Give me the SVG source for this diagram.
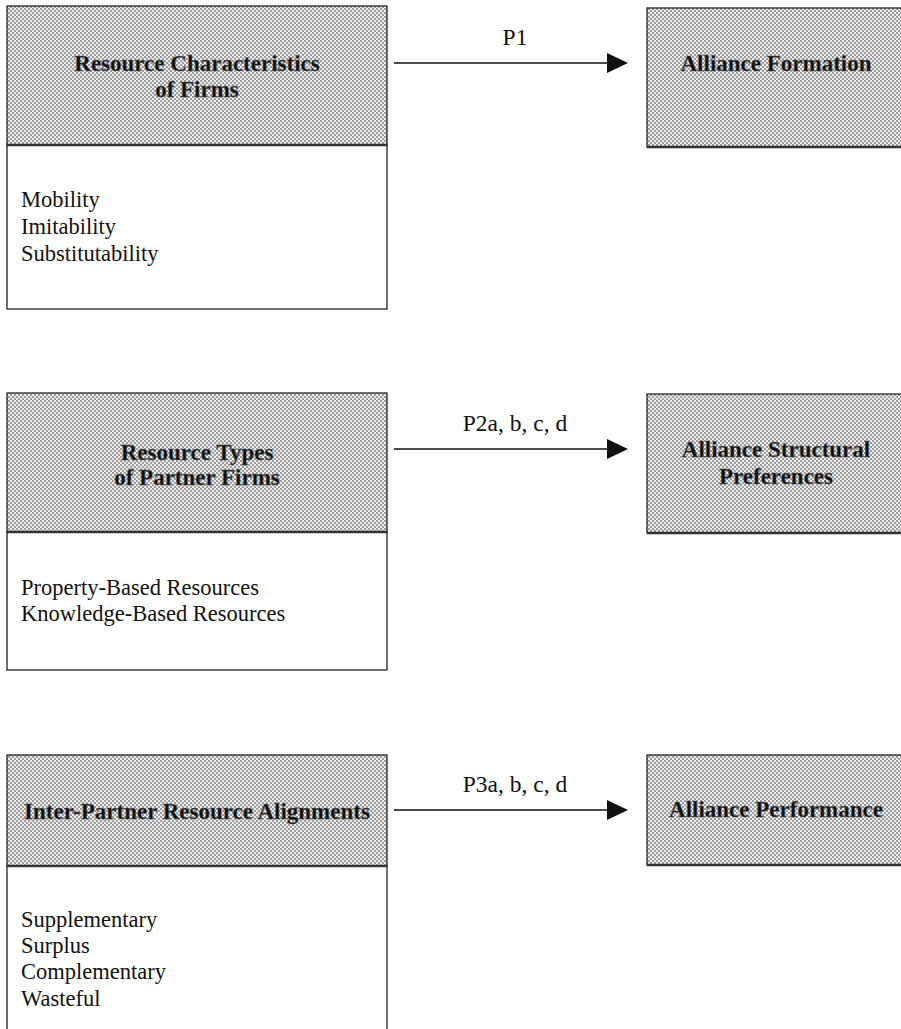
<svg xmlns="http://www.w3.org/2000/svg" width="901" height="1029" viewBox="0 0 901 1029">
<defs>
<pattern id="dots" width="4" height="4" patternUnits="userSpaceOnUse">
<rect width="4" height="4" fill="#ececec"/>
<rect x="0" y="0" width="2" height="2" fill="#9c9c9c"/>
<rect x="2" y="2" width="2" height="2" fill="#9c9c9c"/>
</pattern>
</defs>
<style>
.shade{fill:url(#dots);stroke:#222;stroke-width:1.3}
.white{fill:#fff;stroke:#222;stroke-width:1.3}
.title{font-family:"Liberation Serif","Times New Roman",serif;font-weight:bold;font-size:23px;fill:#111;text-anchor:middle;stroke:#666;stroke-width:0.4}
.body{font-family:"Liberation Serif","Times New Roman",serif;font-size:22.5px;fill:#111}
.lab{font-family:"Liberation Serif","Times New Roman",serif;font-size:23.5px;fill:#111;text-anchor:middle}
.conn{stroke:#111;stroke-width:1.5;fill:none}
.head{fill:#111}
.base{stroke:#333;stroke-width:2.5}
</style>
<rect width="901" height="1029" fill="#fff"/>

<g id="node-resource-characteristics">
<rect class="white" x="7" y="145" width="380" height="164"/>
<rect class="shade" x="7" y="6" width="380" height="139"/>
<line class="base" x1="7" y1="145" x2="387" y2="145"/>
<text class="title" x="197" y="71">Resource Characteristics</text>
<text class="title" x="197" y="97">of Firms</text>
<text class="body" x="21" y="207">Mobility</text>
<text class="body" x="21" y="234">Imitability</text>
<text class="body" x="21" y="261">Substitutability</text>
</g>

<g id="node-alliance-formation">
<rect class="shade" x="647" y="8" width="260" height="139"/>
<line class="base" x1="647" y1="147" x2="901" y2="147"/>
<text class="title" x="776" y="71">Alliance Formation</text>
</g>

<g id="node-resource-types">
<rect class="white" x="7" y="532" width="380" height="138"/>
<rect class="shade" x="7" y="393" width="380" height="139"/>
<line class="base" x1="7" y1="532" x2="387" y2="532"/>
<text class="title" x="197" y="460">Resource Types</text>
<text class="title" x="197" y="485">of Partner Firms</text>
<text class="body" x="21" y="595">Property-Based Resources</text>
<text class="body" x="21" y="621">Knowledge-Based Resources</text>
</g>

<g id="node-alliance-structural">
<rect class="shade" x="647" y="394" width="260" height="139"/>
<line class="base" x1="647" y1="533" x2="901" y2="533"/>
<text class="title" x="776" y="457">Alliance Structural</text>
<text class="title" x="776" y="484">Preferences</text>
</g>

<g id="node-inter-partner">
<rect class="white" x="7" y="866" width="380" height="175"/>
<rect class="shade" x="7" y="755" width="380" height="111"/>
<line class="base" x1="7" y1="866" x2="387" y2="866"/>
<text class="title" x="197" y="819">Inter-Partner Resource Alignments</text>
<text class="body" x="21" y="927">Supplementary</text>
<text class="body" x="21" y="953">Surplus</text>
<text class="body" x="21" y="979">Complementary</text>
<text class="body" x="21" y="1006">Wasteful</text>
</g>

<g id="node-alliance-performance">
<rect class="shade" x="647" y="755" width="260" height="110"/>
<line class="base" x1="647" y1="865" x2="901" y2="865"/>
<text class="title" x="776" y="817">Alliance Performance</text>
</g>

<g id="connectors">
<line class="conn" x1="394" y1="63" x2="610" y2="63"/>
<polygon class="head" points="607,53 628,63 607,73"/>
<text class="lab" x="515" y="45">P1</text>
<line class="conn" x1="394" y1="449" x2="610" y2="449"/>
<polygon class="head" points="607,439 628,449 607,459"/>
<text class="lab" x="515" y="431">P2a, b, c, d</text>
<line class="conn" x1="394" y1="810" x2="610" y2="810"/>
<polygon class="head" points="607,800 628,810 607,820"/>
<text class="lab" x="515" y="792">P3a, b, c, d</text>
</g>
</svg>
